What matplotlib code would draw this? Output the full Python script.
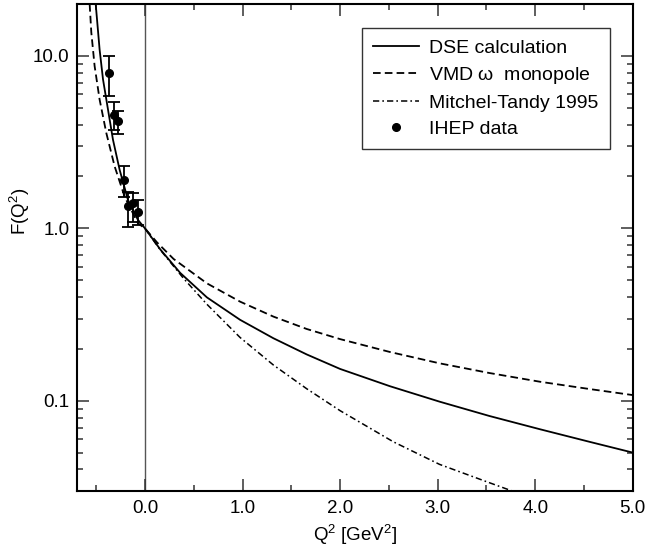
import matplotlib
matplotlib.use("Agg")
import matplotlib.pyplot as plt
from matplotlib.lines import Line2D
from matplotlib.ticker import FixedLocator, FixedFormatter, MultipleLocator, LogLocator, NullFormatter

plt.rcParams['font.family'] = ['Liberation Sans', 'DejaVu Sans']
plt.rcParams['mathtext.default'] = 'regular'
plt.rcParams['lines.scale_dashes'] = False

# ---- data ----
dse_x = [-0.505, -0.465, -0.43, -0.379, -0.328, -0.26, -0.174, -0.072, 0.0,
         0.157, 0.361, 0.635, 0.975, 1.316, 1.658, 2.0, 2.51, 3.02, 3.53,
         4.05, 4.56, 5.0]
dse_y = [20.0, 10.9, 7.31, 4.89, 3.27, 2.19, 1.46, 1.12, 1.0,
         0.755, 0.552, 0.398, 0.295, 0.2307, 0.1858, 0.1531, 0.1216, 0.0989, 0.0817,
         0.0684, 0.0578, 0.0501]

vmd_x = [-0.567, -0.55, -0.516, -0.465, -0.396, -0.311, -0.209, -0.072, 0.0,
         0.123, 0.293, 0.635, 0.975, 1.316, 1.658, 2.0, 2.51, 3.02, 3.53,
         4.05, 4.56, 5.0]
vmd_y = [20.0, 13.7, 8.73, 5.59, 3.57, 2.29, 1.53, 1.07, 1.0,
         0.83, 0.665, 0.48, 0.376, 0.308, 0.261, 0.228, 0.192, 0.165, 0.145,
         0.129, 0.117, 0.108]

mt_x = [0.0, 0.15, 0.395, 0.635, 0.975, 1.316, 1.658, 2.0, 2.545,
        3.02, 3.50, 3.80]
mt_y = [1.0, 0.759, 0.513, 0.363, 0.233, 0.1614, 0.1175, 0.0877, 0.0579,
        0.0428, 0.0340, 0.0295]

ihep_x = [-0.365, -0.321, -0.276, -0.219, -0.174, -0.123, -0.072]
ihep_y = [7.92, 4.53, 4.18, 1.91, 1.34, 1.40, 1.25]
ihep_lo = [5.89, 3.74, 3.53, 1.53, 1.02, 1.09, 1.04]
ihep_hi = [10.0, 5.39, 4.78, 2.31, 1.63, 1.61, 1.46]

x_ticks = [0.0, 1.0, 2.0, 3.0, 4.0, 5.0]
x_tick_labels = ['0.0', '1.0', '2.0', '3.0', '4.0', '5.0']
y_ticks = [0.1, 1.0, 10.0]
y_tick_labels = ['0.1', '1.0', '10.0']

labels = ['DSE calculation', r'VMD $\omega$  monopole', 'Mitchel-Tandy 1995', 'IHEP data']

# ---- figure ----
fig = plt.figure(figsize=(6.47, 5.48), dpi=100)
ax = fig.add_axes([0.1185, 0.104, 0.8595, 0.8887])

lw = 1.3
ax.axvline(0.0, color='#555555', lw=1.0, zorder=1)
ax.plot(dse_x, dse_y, color='black', lw=lw, solid_joinstyle='round')
ax.plot(vmd_x, vmd_y, color='black', lw=lw, dashes=(5.5, 3.0))
ax.plot(mt_x, mt_y, color='black', lw=1.1, dashes=(4.5, 2.2, 1.2, 2.2))

yerr = [[y - lo for y, lo in zip(ihep_y, ihep_lo)],
        [hi - y for y, hi in zip(ihep_y, ihep_hi)]]
ax.errorbar(ihep_x, ihep_y, yerr=yerr, fmt='o', color='black', ms=5.5,
            elinewidth=1.3, capsize=4.2, capthick=1.3, zorder=5)

ax.set_yscale('log')
ax.set_xlim(-0.7, 5.0)
ax.set_ylim(0.03, 20.0)

ax.xaxis.set_major_locator(FixedLocator(x_ticks))
ax.xaxis.set_major_formatter(FixedFormatter(x_tick_labels))
ax.xaxis.set_minor_locator(MultipleLocator(0.5))
ax.yaxis.set_major_locator(FixedLocator(y_ticks))
ax.yaxis.set_major_formatter(FixedFormatter(y_tick_labels))
ax.yaxis.set_minor_locator(LogLocator(base=10, subs=range(2, 10)))
ax.yaxis.set_minor_formatter(NullFormatter())

ax.tick_params(which='both', direction='in', top=True, right=True,
               labelsize=13.5, width=1.1, color='#333333')
ax.tick_params(which='major', length=8.5)
ax.tick_params(axis='x', which='major', pad=6.5)
ax.tick_params(axis='y', which='major', pad=5)
ax.tick_params(which='minor', length=4.0)
for s in ax.spines.values():
    s.set_linewidth(1.5)
    s.set_color('black')

ax.set_xlabel('Q$^2$ [GeV$^2$]', fontsize=13.5, labelpad=4)
ax.set_ylabel('F(Q$^2$)', fontsize=13.5)
ax.yaxis.set_label_coords(-0.08, 0.575)

handles = [Line2D([], [], color='black', lw=lw),
           Line2D([], [], color='black', lw=lw, dashes=(5.5, 3.0)),
           Line2D([], [], color='black', lw=1.1, dashes=(4.5, 2.2, 1.2, 2.2)),
           Line2D([], [], color='black', ls='none', marker='o', ms=5.5)]
leg = ax.legend(handles, labels, loc='upper right', bbox_to_anchor=(0.9587, 0.9507),
                fontsize=14, frameon=True, fancybox=False, handlelength=2.37,
                handletextpad=0.5, labelspacing=0.42, borderpad=0.58,
                borderaxespad=0.0)
leg.get_frame().set_edgecolor('black')
leg.get_frame().set_linewidth(1.0)

fig.savefig('out.png', dpi=100)
